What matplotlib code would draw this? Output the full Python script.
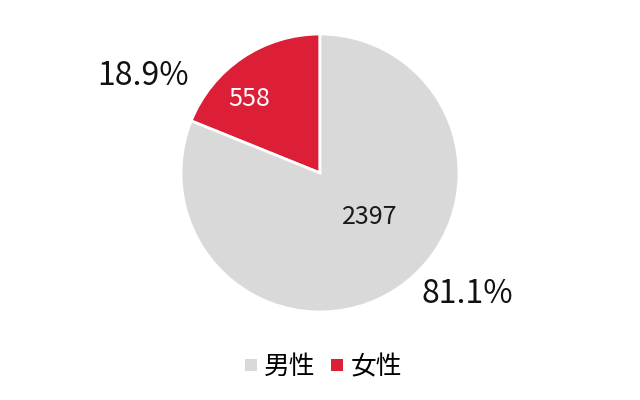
import matplotlib
matplotlib.use("Agg")
import matplotlib.pyplot as plt
from matplotlib.lines import Line2D

plt.rcParams['font.family'] = ['Noto Sans CJK JP', 'DejaVu Sans']

categories = ['女性', '男性']
values = [558, 2397]
percents = ['18.9%', '81.1%']
colors = ['#DC1E37', '#D9D9D9']
value_colors = ['white', '#1a1a1a']
legend_order = ['男性', '女性']

fig = plt.figure(figsize=(6.4, 4.0), dpi=100)
ax = fig.add_axes([181/640, (400-312)/400, 278/640, 278/400])
wedges, _ = ax.pie(values, colors=colors, startangle=90, counterclock=True,
                   radius=1, wedgeprops=dict(edgecolor='white', linewidth=2))
ax.set_xlim(-1, 1)
ax.set_ylim(-1, 1)
ax.set_aspect('equal')
ax.axis('off')

# value labels inside
val_pos = [(-0.51, 0.53), (0.36, -0.32)]
for (x, y), v, c in zip(val_pos, values, value_colors):
    ax.text(x, y, str(v), color=c, fontsize=18, ha='center', va='center')

# percent labels outside
pct_pos = [(-1.27, 0.70), (1.06, -0.87)]
for (x, y), p in zip(pct_pos, percents):
    ax.text(x, y, p, color='#111111', fontsize=23, ha='center', va='center')

# legend
handles = [Line2D([], [], marker='s', linestyle='none', markersize=9,
                  markerfacecolor=colors[categories.index(n)], markeredgewidth=0)
           for n in legend_order]
fig.legend(handles, legend_order, loc='center', bbox_to_anchor=(0.505, 1 - 367/400),
           ncol=2, frameon=False, fontsize=18.5, handletextpad=0.25,
           columnspacing=0.6, handlelength=0.5)

fig.savefig('out.png', dpi=100)
